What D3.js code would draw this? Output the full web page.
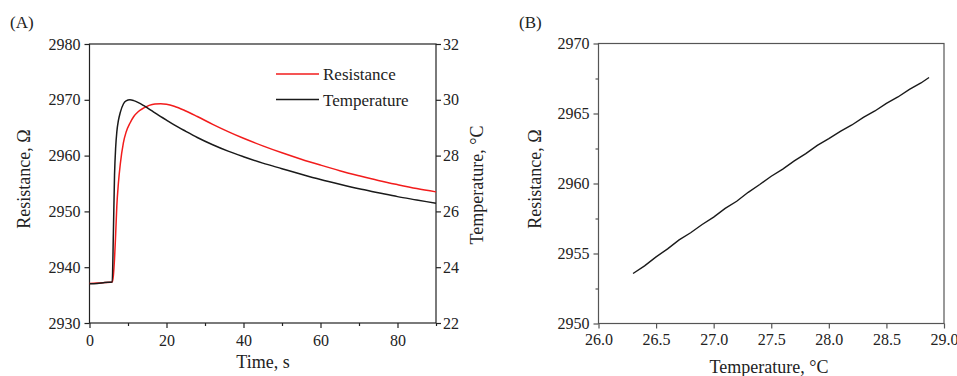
<!DOCTYPE html>
<html>
<head>
<meta charset="utf-8">
<script src="https://cdn.jsdelivr.net/npm/d3@7"></script>
<style>
  body { margin: 0; background: #fff; }
  svg { display: block; font-family: "Liberation Serif", "DejaVu Serif", serif; }
</style>
</head>
<body>
<svg width="957" height="376"></svg>
<script>
// panel (A): time response
const timeA = [0, 2, 4, 5.9, 6.2, 6.5, 6.8, 7.1, 7.5, 8, 8.8, 9.5, 10.5, 11.5, 12.7, 14, 15.5, 17, 18.5, 20, 22, 25, 28, 32, 36, 40, 45, 50, 55, 60, 65, 70, 75, 80, 85, 90];
const resistanceA = [2937.1, 2937.15, 2937.25, 2937.35, 2938.5, 2941.5, 2946, 2951, 2955, 2958.5, 2962.3, 2964.2, 2965.8, 2967.0, 2967.9, 2968.5, 2969.0, 2969.25, 2969.3, 2969.2, 2968.85, 2968.0, 2967.0, 2965.6, 2964.3, 2963.1, 2961.75, 2960.5, 2959.35, 2958.3, 2957.3, 2956.4, 2955.55, 2954.8, 2954.1, 2953.5];
const temperatureA = [23.41, 23.42, 23.45, 23.47, 25.2, 27.3, 28.3, 28.85, 29.25, 29.55, 29.85, 29.96, 30.0, 29.97, 29.9, 29.8, 29.67, 29.53, 29.4, 29.27, 29.1, 28.87, 28.65, 28.39, 28.16, 27.96, 27.73, 27.53, 27.33, 27.14, 26.97, 26.81, 26.67, 26.53, 26.41, 26.29];
const timeTicks = [0, 20, 40, 60, 80];
const resTicksA = [2930, 2940, 2950, 2960, 2970, 2980];
const tempTicksA = [22, 24, 26, 28, 30, 32];
const legendA = ["Resistance", "Temperature"];

// panel (B): resistance vs temperature
const tempB = [26.30, 26.40, 26.50, 26.60, 26.70, 26.80, 26.90, 27.00, 27.10, 27.20, 27.30, 27.40, 27.50, 27.60, 27.70, 27.80, 27.90, 28.00, 28.10, 28.20, 28.30, 28.40, 28.50, 28.60, 28.70, 28.80, 28.87];
const resB = [2953.57, 2954.12, 2954.76, 2955.33, 2955.97, 2956.48, 2957.07, 2957.6, 2958.22, 2958.73, 2959.37, 2959.93, 2960.52, 2961.03, 2961.62, 2962.13, 2962.72, 2963.2, 2963.72, 2964.18, 2964.72, 2965.18, 2965.72, 2966.18, 2966.72, 2967.18, 2967.57];
const tempTicksB = [26.0, 26.5, 27.0, 27.5, 28.0, 28.5, 29.0];
const resTicksB = [2950, 2955, 2960, 2965, 2970];

const serif = "'Liberation Serif', 'DejaVu Serif', serif";
const svg = d3.select("svg");
svg.append("rect").attr("width", 957).attr("height", 376).attr("fill", "#fff");

const textColor = "#222";

// ---------- panel A ----------
const xA = d3.scaleLinear().domain([0, 90]).range([89.5, 436]);
const yA = d3.scaleLinear().domain([2930, 2980]).range([323, 44]);
const yT = d3.scaleLinear().domain([22, 32]).range([323, 44]);

const gA = svg.append("g");

const styleAxis = (g, color) => {
  g.attr("font-family", serif).attr("font-size", 16);
  g.select(".domain").remove();
  g.selectAll(".tick line").attr("stroke", color).attr("stroke-width", 1.2);
  g.selectAll(".tick text")
    .attr("fill", textColor)
    .style("font-family", serif)
    .style("font-size", "16px");
};

gA.append("g")
  .attr("transform", `translate(0,${yA.range()[0]})`)
  .call(d3.axisBottom(xA).tickValues([10, 30, 50, 70, 90]).tickSize(3).tickFormat(""))
  .call(g => styleAxis(g, "#222"));
gA.append("g")
  .attr("transform", `translate(0,${yA.range()[0]})`)
  .call(d3.axisBottom(xA).tickValues(timeTicks).tickSize(5).tickPadding(7).tickFormat(d3.format("d")))
  .call(g => styleAxis(g, "#222"));
gA.append("g")
  .attr("transform", `translate(${xA.range()[0]},0)`)
  .call(d3.axisLeft(yA).tickValues(resTicksA).tickSize(5).tickPadding(4).tickFormat(d3.format("d")))
  .call(g => styleAxis(g, "#222"));
gA.append("g")
  .attr("transform", `translate(${xA.range()[1]},0)`)
  .call(d3.axisRight(yT).tickValues(tempTicksA).tickSize(5).tickPadding(2).tickFormat(d3.format("d")))
  .call(g => styleAxis(g, "#222"));

gA.append("rect")
  .attr("x", xA.range()[0]).attr("y", yA.range()[1])
  .attr("width", xA.range()[1] - xA.range()[0])
  .attr("height", yA.range()[0] - yA.range()[1])
  .attr("fill", "none").attr("stroke", "#222").attr("stroke-width", 1.2);

const lineRes = d3.line()
  .x((d, i) => xA(timeA[i]))
  .y(d => yA(d))
  .curve(d3.curveMonotoneX);
const lineTemp = d3.line()
  .x((d, i) => xA(timeA[i]))
  .y(d => yT(d))
  .curve(d3.curveMonotoneX);

gA.append("path").datum(resistanceA)
  .attr("d", lineRes).attr("fill", "none").attr("stroke", "#f21c1c").attr("stroke-width", 1.5);
gA.append("path").datum(temperatureA)
  .attr("d", lineTemp).attr("fill", "none").attr("stroke", "#1a1a1a").attr("stroke-width", 1.5);

// legend
const legendColors = ["#f21c1c", "#1a1a1a"];
const leg = gA.selectAll(".leg").data(legendA).enter().append("g")
  .attr("transform", (d, i) => `translate(276,${74 + i * 25.5})`);
leg.append("line").attr("x1", 0).attr("x2", 43)
  .attr("stroke", (d, i) => legendColors[i]).attr("stroke-width", 1.5);
leg.append("text").attr("x", 47).attr("y", 6)
  .style("font-size", "17px").attr("fill", textColor).text(d => d);

// titles
gA.append("text").attr("x", 263).attr("y", 368).attr("text-anchor", "middle")
  .style("font-size", "18px").attr("fill", textColor).text("Time, s");
gA.append("text").attr("transform", "translate(30,179) rotate(-90)").attr("text-anchor", "middle")
  .style("font-size", "18px").attr("fill", textColor).text("Resistance, Ω");
gA.append("text").attr("transform", "translate(483,185) rotate(-90)").attr("text-anchor", "middle")
  .style("font-size", "18px").attr("fill", textColor).text("Temperature, °C");
gA.append("text").attr("x", 10).attr("y", 28)
  .style("font-size", "17px").attr("fill", textColor).text("(A)");

// ---------- panel B ----------
const xB = d3.scaleLinear().domain([26, 29]).range([598.5, 944]);
const yB = d3.scaleLinear().domain([2950, 2970]).range([323.5, 43.5]);
const gB = svg.append("g");
const frameB = "#555";

gB.append("g")
  .attr("transform", `translate(0,${yB.range()[0]})`)
  .call(d3.axisBottom(xB).tickValues(tempTicksB).tickSize(5).tickPadding(5).tickFormat(d3.format(".1f")))
  .call(g => styleAxis(g, frameB));
gB.append("g")
  .attr("transform", `translate(${xB.range()[0]},0)`)
  .call(d3.axisLeft(yB).tickValues([2952.5, 2957.5, 2962.5, 2967.5]).tickSize(3).tickFormat(""))
  .call(g => styleAxis(g, frameB));
gB.append("g")
  .attr("transform", `translate(${xB.range()[0]},0)`)
  .call(d3.axisLeft(yB).tickValues(resTicksB).tickSize(5).tickPadding(4).tickFormat(d3.format("d")))
  .call(g => styleAxis(g, frameB));

gB.append("rect")
  .attr("x", xB.range()[0]).attr("y", yB.range()[1])
  .attr("width", xB.range()[1] - xB.range()[0])
  .attr("height", yB.range()[0] - yB.range()[1])
  .attr("fill", "none").attr("stroke", frameB).attr("stroke-width", 1.2);

const lineB = d3.line()
  .x((d, i) => xB(tempB[i]))
  .y(d => yB(d));
gB.append("path").datum(resB)
  .attr("d", lineB).attr("fill", "none").attr("stroke", "#1a1a1a").attr("stroke-width", 1.4);

gB.append("text").attr("x", 769).attr("y", 373).attr("text-anchor", "middle")
  .style("font-size", "18px").attr("fill", textColor).text("Temperature, °C");
gB.append("text").attr("transform", "translate(540.5,179) rotate(-90)").attr("text-anchor", "middle")
  .style("font-size", "18px").attr("fill", textColor).text("Resistance, Ω");
gB.append("text").attr("x", 519).attr("y", 28)
  .style("font-size", "17px").attr("fill", textColor).text("(B)");
</script>
</body>
</html>
